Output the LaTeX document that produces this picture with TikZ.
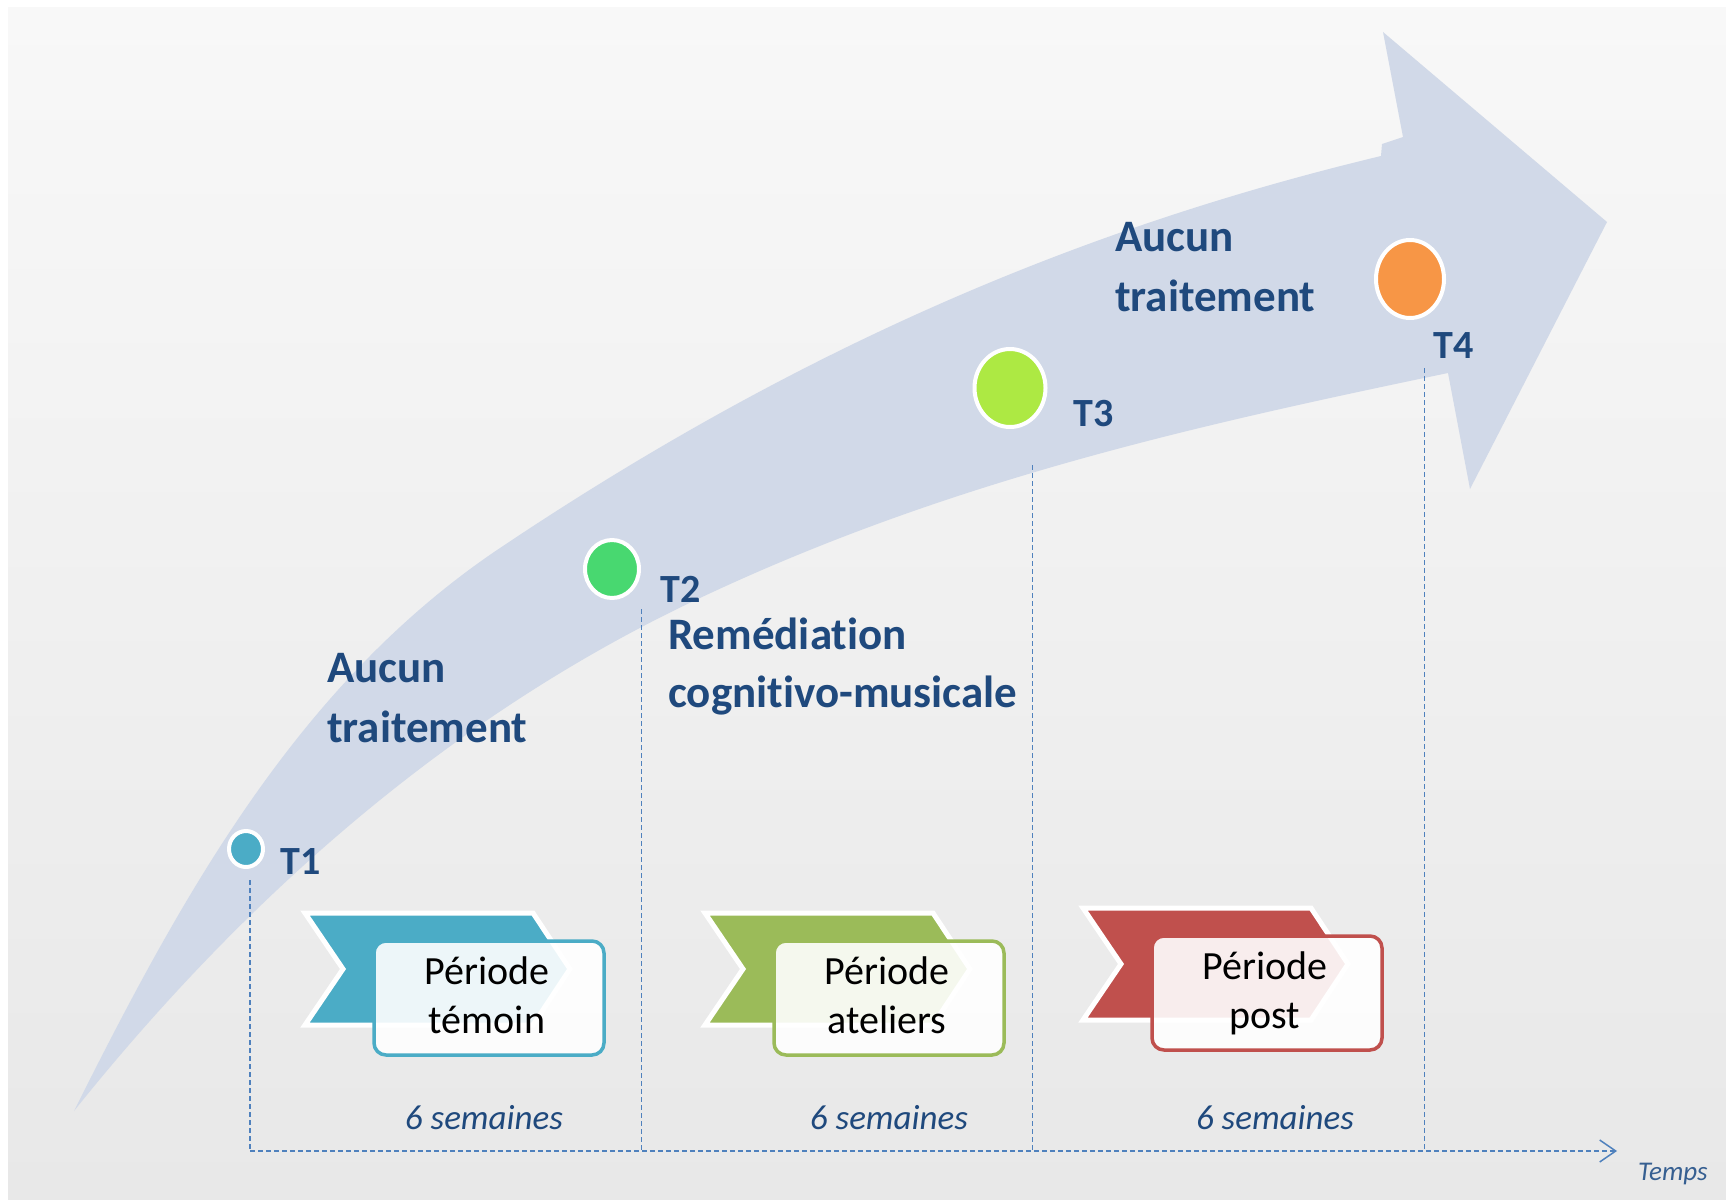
\documentclass[tikz,border=0pt]{standalone}
\usepackage{fontspec}
\setmainfont{Carlito}[Ligatures=NoCommon]
\usetikzlibrary{shapes.geometric,arrows.meta}

\definecolor{panelTop}{RGB}{248,248,248}
\definecolor{panelBottom}{RGB}{232,232,232}
\definecolor{bandblue}{RGB}{209,217,232}
\definecolor{navy}{RGB}{31,73,125}
\definecolor{guideblue}{RGB}{79,129,189}
\definecolor{tempsblue}{RGB}{54,95,145}
\definecolor{tealA}{RGB}{75,172,198}
\definecolor{greenA}{RGB}{155,187,89}
\definecolor{redA}{RGB}{192,80,77}
\definecolor{dotOne}{RGB}{75,172,198}
\definecolor{dotTwo}{RGB}{72,216,112}
\definecolor{dotThree}{RGB}{173,233,67}
\definecolor{dotFour}{RGB}{247,150,70}

\begin{document}
\begin{tikzpicture}[x=1pt,y=-1pt,
  phase/.style={font=\fontsize{45}{54}\selectfont\bfseries, text=navy, anchor=base west, inner sep=0},
  tlabel/.style={font=\fontsize{40}{48}\selectfont\bfseries, text=navy, anchor=base west, inner sep=0},
  tdot/.style={ellipse, draw=white, line width=4pt, inner sep=0},
  chevron/.style={draw=white, line width=5pt, line join=miter},
  periodbox/.style={rectangle, rounded corners=12pt, line width=3.5pt, fill=white, fill opacity=0.9,
    minimum width=230pt, minimum height=114pt, inner sep=0},
  boxtext/.style={font=\fontsize{40}{48}\selectfont, text=black, anchor=base, inner sep=0},
  weeks/.style={font=\fontsize{35}{42}\selectfont\itshape, text=navy, anchor=base, inner sep=0},
  guide/.style={draw=guideblue, line width=1.3pt, dash pattern=on 5pt off 3pt},
]
% page and panel
\useasboundingbox (0,0) rectangle (1726,1199);
\fill[white] (0,0) rectangle (1726,1199);
\shade[top color=panelTop, bottom color=panelBottom] (8,8) rectangle (1726,1199);

% curved progress arrow
\fill[bandblue] (1448,373) -- (1470,489) -- (1607,222) -- (1383,32) -- (1403,137) -- (1382,144) -- (1381,156)
  .. controls (1081,228) and (800,347) .. (500,548)
  .. controls (300,682) and (184,891) .. (74,1111)
  .. controls (234,911) and (440,720) .. (700,598)
  .. controls (950,480) and (1198,425) .. (1448,373) -- cycle;

% time axis and guides
\coordinate (axis0) at (250,1151);
\coordinate (axis1) at (1617,1151);
\coordinate (g1top) at (250,880);
\coordinate (g2top) at (641.5,609);
\coordinate (g2bot) at (641.5,1151);
\coordinate (g3top) at (1032.5,465);
\coordinate (g3bot) at (1032.5,1151);
\coordinate (g4top) at (1424.5,368);
\coordinate (g4bot) at (1424.5,1151);
\draw[guide] (g1top) -- (axis0);
\draw[guide] (g2top) -- (g2bot);
\draw[guide] (g3top) -- (g3bot);
\draw[guide] (g4top) -- (g4bot);
\draw[guide, -{Straight Barb[length=16pt,width=22pt,line width=1.5pt]}] (axis0) -- (axis1);
\node[font=\fontsize{27}{32}\selectfont\itshape, text=tempsblue, anchor=base west, inner sep=0] (temps) at (1638,1180) {Temps};

% measurement points
\node[tdot, fill=dotOne, minimum width=34pt, minimum height=36pt] (t1) at (246,849) {};
\node[tdot, fill=dotTwo, minimum width=54pt, minimum height=58pt] (t2) at (612,569) {};
\node[tdot, fill=dotThree, minimum width=71pt, minimum height=78pt] (t3) at (1010,388) {};
\node[tdot, fill=dotFour, minimum width=68pt, minimum height=78pt] (t4) at (1410,279) {};
\node[tlabel] (l1) at (280,874) {T1};
\node[tlabel] (l2) at (660,602) {T2};
\node[tlabel] (l3) at (1073,426) {T3};
\node[tlabel] (l4) at (1433,358) {T4};

% phase labels
\node[phase] (p1a) at (327,682) {Aucun};
\node[phase] (p1b) at (327,742) {traitement};
\node[phase] (p2a) at (668,649) {Remédiation};
\node[phase] (p2b) at (668,707) {cognitivo-musicale};
\node[phase] (p3a) at (1115,251) {Aucun};
\node[phase] (p3b) at (1115,311) {traitement};

% period 1
\fill[chevron, fill=tealA] (305,913) -- (533,913) -- (570,969) -- (533,1025) -- (305,1025) -- (343,969) -- cycle;
\node[periodbox, draw=tealA] (b1) at (489,998) {};
\node[boxtext] (b1a) at (487,984) {Période};
\node[boxtext] (b1b) at (487,1033) {témoin};
\node[weeks] (w1) at (484,1129) {6 semaines};

% period 2
\fill[chevron, fill=greenA] (705,913) -- (933,913) -- (970,969) -- (933,1025) -- (705,1025) -- (743,969) -- cycle;
\node[periodbox, draw=greenA] (b2) at (889,998) {};
\node[boxtext] (b2a) at (887,984) {Période};
\node[boxtext] (b2b) at (887,1033) {ateliers};
\node[weeks] (w2) at (889,1129) {6 semaines};

% period 3
\fill[chevron, fill=redA] (1083,908) -- (1311,908) -- (1348,964) -- (1311,1020) -- (1083,1020) -- (1121,964) -- cycle;
\node[periodbox, draw=redA] (b3) at (1267,993) {};
\node[boxtext] (b3a) at (1265,979) {Période};
\node[boxtext] (b3b) at (1265,1028) {post};
\node[weeks] (w3) at (1275,1129) {6 semaines};
\end{tikzpicture}
\end{document}
